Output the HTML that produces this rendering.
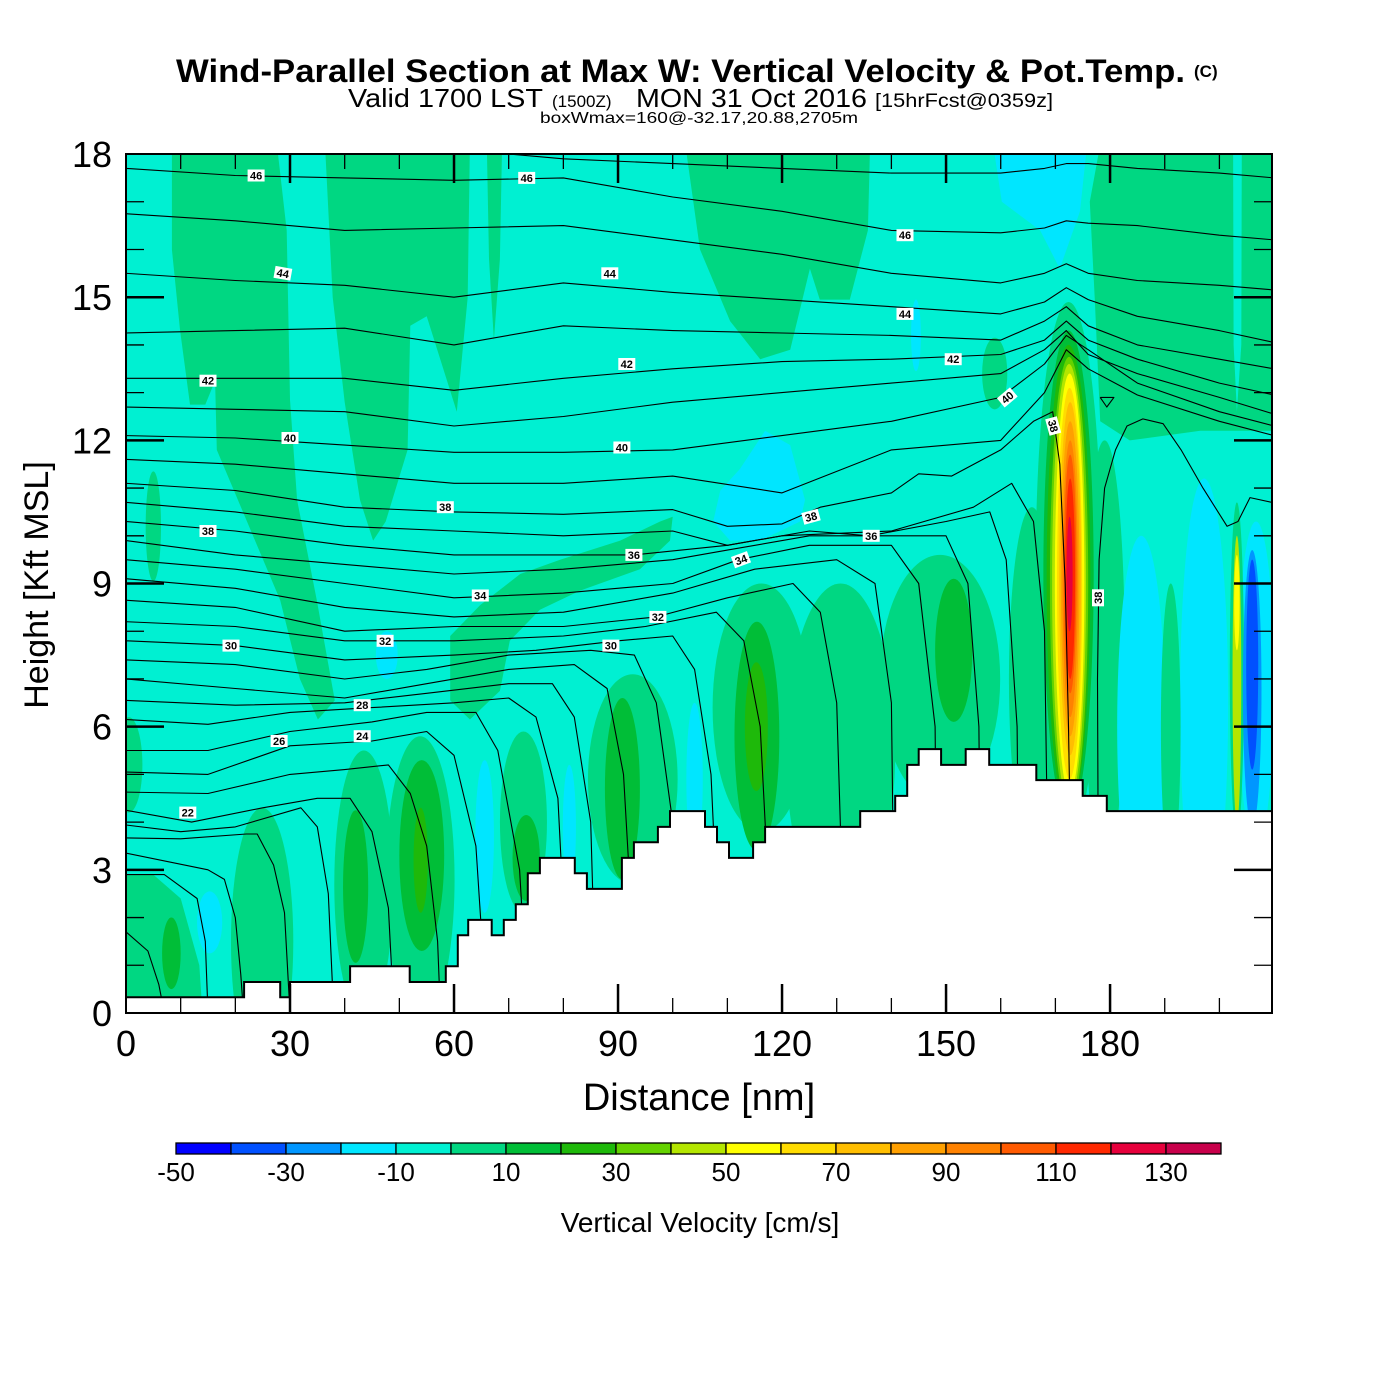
<!DOCTYPE html>
<html><head><meta charset="utf-8"><style>
html,body{margin:0;padding:0;background:#fff;}
svg{display:block;font-family:"Liberation Sans",sans-serif;}
</style></head><body>
<svg id="chart" width="1400" height="1400" viewBox="0 0 1400 1400" xmlns="http://www.w3.org/2000/svg">
<defs><clipPath id="plotclip"><rect x="126" y="154" width="1146" height="859"/></clipPath></defs>
<g>
<text x="176" y="82" font-size="32" font-weight="bold" textLength="1009" lengthAdjust="spacingAndGlyphs">Wind-Parallel Section at Max W: Vertical Velocity &amp; Pot.Temp.</text>
<text x="1194" y="77" font-size="17" font-weight="bold">(C)</text>
<text y="107"><tspan x="348" font-size="26" textLength="195" lengthAdjust="spacingAndGlyphs">Valid 1700 LST</tspan><tspan x="552" font-size="17">(1500Z)</tspan><tspan x="636" font-size="26" textLength="231" lengthAdjust="spacingAndGlyphs">MON 31 Oct 2016</tspan><tspan x="875" font-size="19" textLength="178" lengthAdjust="spacingAndGlyphs">[15hrFcst@0359z]</tspan></text>
<text x="540" y="123" font-size="16" textLength="318" lengthAdjust="spacingAndGlyphs">boxWmax=160@-32.17,20.88,2705m</text>
</g>
<g id="field" clip-path="url(#plotclip)"></g>
<g id="contours" clip-path="url(#plotclip)"></g>
<g id="terrain" clip-path="url(#plotclip)"></g>
<g id="clabels" clip-path="url(#plotclip)"></g>
<g id="axes"></g>
<g id="cbar"></g>
<text x="699" y="1110" font-size="38" text-anchor="middle">Distance [nm]</text>
<text transform="translate(48,585) rotate(-90)" font-size="34" text-anchor="middle">Height [Kft MSL]</text>
<text x="700" y="1232" font-size="28" text-anchor="middle">Vertical Velocity [cm/s]</text>
</svg>
<script>
// ---- data ----
const xTicks = [0,30,60,90,120,150,180];
const yTicks = [0,3,6,9,12,15,18];
const cbarBins = [-50,-40,-30,-20,-10,0,10,20,30,40,50,60,70,80,90,100,110,120,130];
const cbarColors = ['#0000FF','#0050FF','#0096FF','#00E6FF','#00F0D2','#00D782','#00BE37','#1EB90A','#64D200','#B4E600','#FFFF00','#FFDC00','#FFBE00','#FFA000','#FF8200','#FF5A00','#FF2800','#E6003C','#C8004B'];
const cbarLabels = [-50,-30,-10,10,30,50,70,90,110,130];
const terrainNm = [0,21.6,28.2,30,41,51.9,58.5,60.7,62.6,66.9,69.1,71.3,73.5,75.7,82.1,84.3,90.7,92.9,97.3,99.5,105.9,108.1,110.3,114.7,116.9,134.3,140.7,142.9,145,149.1,153.6,157.9,166.5,175,179.4,210];
const terrainKft = [0.33,0.65,0.33,0.65,0.98,0.65,0.98,1.63,1.95,1.63,1.95,2.28,2.93,3.25,2.93,2.6,3.25,3.58,3.9,4.23,3.9,3.58,3.25,3.58,3.9,4.23,4.55,5.2,5.53,5.2,5.53,5.2,4.88,4.55,4.23,4.23];
// field polygons: [value cm/s, [[nm,kft],...]]
const fieldPolys = [
 [5,[[8.4,18.2],[27.6,18.2],[29.4,16.4],[30,12.85],[31.3,10.75],[34.9,8.65],[38.2,6.55],[35.1,6.15],[31.8,7.0],[28.2,8.65],[16.6,11.8],[16.3,13.25],[14.5,12.75],[11.7,12.75],[9.9,14.3],[8.4,16.0]]],
 [5,[[36.4,18.2],[62.9,18.2],[62.5,15.0],[60.5,12.6],[55.0,14.6],[52.0,14.4],[51.5,11.8],[47.5,10.3],[45.2,9.9],[42.8,10.75],[40.0,12.8],[37.8,15.0]]],
 [5,[[66,18.2],[68.8,18.2],[68.4,15.8],[67.3,14.1],[66.4,15.8]]],
 [5,[[102.3,18.2],[136.1,18.2],[135.7,16.4],[132.4,14.95],[126.9,14.95],[125.1,15.6],[121.5,13.9],[116,13.7],[110.5,14.5],[105,16.0]]],
 [5,[[178.2,18.2],[210,18.2],[210,12.2],[196.5,12.2],[183.6,12.0],[178.2,12.4],[177.2,14.95],[176.3,17.0]]],
 [-5,[[202.5,18.2],[204.1,18.2],[204.0,14.0],[203.2,12.6],[202.6,14.0]]],
 [-15,[[158.6,18.2],[175.8,18.2],[174.5,16.8],[170.8,15.6],[167.2,16.4],[160.2,17.0]]],
 [5,[[59.3,7.9],[64.8,8.55],[72.1,9.2],[79.4,9.5],[90.4,9.9],[97.7,10.3],[100,10.4],[99.5,9.9],[94,9.3],[83,8.85],[75.7,8.45],[70.2,7.8],[68.4,6.75],[62.9,6.15],[59.3,6.55]]],
 [5,[[0,0],[0,2.9],[5,2.9],[10,2.4],[13.4,1.0],[14,0]]],
 [-15,[[107.4,10.3],[108.7,10.95],[112.3,11.4],[116.9,12.2],[121.5,11.9],[124.2,10.75],[123.3,10.3],[116,9.9],[110.5,9.9]]]
];
// field blobs: [value cm/s, nm, kft, rx nm, ry kft]
const fieldBlobs = [
 [5,0.5,5.2,2.5,1.0],[5,5.0,10.2,1.4,1.15],[15,8.3,1.25,1.7,0.75],[-15,15.3,1.9,2.3,0.65],
 [5,24.9,1.5,5.7,2.8],[5,43.5,2.7,5.4,2.8],[15,42,2.65,2.3,1.6],
 [5,53.8,2.8,6.3,3.0],[15,54.1,3.3,4.1,2.0],[25,53.9,3.2,1.3,1.1],
 [-15,65.6,3.7,1.7,1.6],[5,72.7,4.0,4.3,1.9],[15,73.2,3.25,2.5,0.9],[-15,81.1,3.9,1.2,1.3],
 [5,92.7,4.9,8.2,2.2],[15,90.8,4.7,3.2,1.9],[-15,104,4.9,1.5,1.6],
 [5,116.2,6.4,8.9,2.6],[15,115.4,5.8,4.1,2.4],[25,115.3,6.0,2.1,1.35],
 [5,130.7,5.5,10,3.5],[5,148.9,7.0,11,2.6],[15,151.4,7.6,3.4,1.5],[5,165.7,7.0,4.2,3.6],
 [-15,47.7,7.5,2.0,0.5],[-15,144.5,14.2,0.9,0.75],[5,158.9,13.4,2.3,0.75],
 [5,179,7.5,3.7,4.5],[-15,185.7,6.0,4.4,4.0],[-15,197.2,6.5,4.4,4.7],[5,191.1,6.0,1.8,3.0],
 [-15,206.7,6.9,3.3,3.4],[5,203.2,7.2,1.3,3.5],[45,203.2,7.0,0.8,3.0],[55,203.2,8.6,0.5,1.0],
 [-25,206,6.8,1.7,2.9],[-35,206,7.3,1.1,2.2],
 [5,172.4,9.3,6.0,5.6],[15,172.4,9.2,4.6,5.1],[25,172.4,9.1,4.0,4.9],[35,172.5,9.0,3.5,4.75],
 [45,172.5,9.0,3.1,4.6],[55,172.6,9.0,2.7,4.4],[65,172.6,9.0,2.3,4.1],[75,172.7,9.1,2.0,3.7],
 [85,172.7,9.1,1.7,3.3],[95,172.7,9.1,1.4,2.9],[105,172.7,9.2,1.15,2.5],[115,172.7,9.1,0.9,2.1],[125,172.6,9.2,0.55,1.2]
];
// potential temperature isentropes
const upperNodesNm = [0,20,40,60,80,100,120,140,160,168,172,176,185,200,210];
const upperLevels = [47,46,45,44,43,42,41,40,39];
const upperKft = [
 [18.3,18.3,18.2,18.1,17.9,17.8,17.7,17.6,17.6,17.7,17.8,17.8,17.7,17.6,17.5],
 [17.7,17.55,17.5,17.45,17.5,17.1,16.8,16.4,16.35,16.45,16.6,16.55,16.5,16.3,16.2],
 [16.75,16.6,16.4,16.45,16.5,16.2,15.9,15.5,15.3,15.5,15.7,15.5,15.35,15.25,15.15],
 [15.5,15.35,15.25,15.0,15.3,15.1,14.95,14.8,14.65,14.9,15.2,14.95,14.6,14.3,14.05],
 [14.25,14.3,14.35,14.0,14.4,14.3,14.25,14.2,14.1,14.5,14.8,14.4,14.0,13.7,13.5],
 [13.3,13.3,13.3,13.05,13.3,13.5,13.65,13.7,13.8,14.1,14.5,14.1,13.7,13.2,12.95],
 [12.7,12.65,12.6,12.3,12.5,12.8,13.0,13.2,13.4,13.9,14.3,13.8,13.4,12.9,12.55],
 [12.1,12.05,11.9,11.75,11.75,11.8,12.1,12.4,12.9,13.6,14.2,13.9,13.2,12.6,12.3],
 [11.6,11.5,11.3,11.1,11.1,11.25,10.9,11.8,12.0,13.0,13.9,13.5,12.95,12.4,12.1]
];
const lowerLines = [
 [[0,11.1],[20,10.95],[40,10.6],[60,10.5],[80,10.45],[100,10.55],[110,10.2],[120,10.25],[127,10.6],[140,10.9],[145,11.3],[151,11.25],[160,11.8],[166,12.4],[169.5,12.6],[170.8,11.5],[171.8,9],[172.4,6],[172.6,4.6]],
 [[177.8,4.4],[177.7,7],[178,9.5],[179,11.0],[181,11.8],[183.1,12.3],[186,12.45],[189.7,12.35],[193,11.8],[197,11.0],[201.4,10.2],[203.4,10.3],[205.6,10.8],[209.6,10.7]],
 [[0,10.7],[20,10.5],[40,10.2],[60,10.1],[80,10.0],[100,10.1],[110,9.8],[120,10.0],[140,10.1],[155,10.6],[162,11.1],[166,10.3],[168,8],[169,0]],
 [[0,10.3],[20,10.1],[40,9.8],[60,9.6],[80,9.6],[93,9.6],[110,9.8],[125,10.1],[136,10.0],[150,10.3],[158,10.5],[161,9.5],[163,6],[163.5,0]],
 [[0,9.9],[20,9.6],[40,9.4],[60,9.2],[80,9.3],[100,9.5],[110,9.7],[125,10.0],[140,10.0],[150,10.0],[154,9.0],[156,6],[156.5,0]],
 [[0,9.5],[20,9.3],[40,9.0],[60,8.7],[80,8.8],[100,9.0],[112,9.5],[125,9.8],[140,9.8],[145,9.0],[148,6],[148.5,0]],
 [[0,9.1],[20,8.9],[40,8.5],[60,8.3],[80,8.4],[100,8.8],[115,9.3],[130,9.5],[137,9.0],[140,6.5],[140.7,0]],
 [[0,8.65],[20,8.5],[40,8.0],[60,8.1],[80,8.1],[97,8.3],[110,8.7],[122,9.0],[127,8.4],[130,6.5],[131.7,0]],
 [[0,8.2],[20,8.1],[40,7.8],[60,7.8],[80,7.9],[95,8.1],[108,8.4],[113,7.8],[116,6],[118.7,0]],
 [[0,7.8],[20,7.7],[40,7.4],[60,7.5],[75,7.6],[90,7.8],[100,7.9],[104,7.2],[107,5],[109,0]],
 [[0,7.4],[20,7.3],[40,7.0],[55,7.2],[70,7.5],[85,7.6],[93,7.5],[97,6.5],[100,4],[101.7,0]],
 [[0,7.0],[20,6.8],[40,6.6],[55,6.9],[70,7.2],[82,7.3],[88,6.8],[91,5],[93.5,0]],
 [[0,6.55],[20,6.45],[40,6.5],[55,6.7],[70,6.9],[78,6.9],[82,6.2],[85,4],[86,0]],
 [[0,6.15],[15,6.05],[30,6.3],[45,6.4],[60,6.5],[70,6.6],[75,6.2],[79,4.5],[81,0]],
 [[0,5.5],[15,5.5],[30,5.9],[45,6.1],[55,6.3],[64,6.3],[68,5.5],[72,3],[73.5,0]],
 [[0,5.05],[15,5.0],[30,5.6],[45,5.7],[55,5.9],[60,5.4],[64,3.5],[66,0]],
 [[0,4.63],[15,4.6],[30,5.0],[40,5.1],[48,5.2],[52,4.6],[55,3.5],[57,1.5],[57.5,0]],
 [[0,4.25],[12,4.0],[25,4.3],[35,4.5],[41,4.5],[45,3.8],[48,2.2],[49,0]],
 [[0,3.94],[10,3.8],[20,3.9],[32,4.3],[35,3.9],[37,2.5],[38,0]],
 [[0,3.67],[10,3.65],[22,3.75],[24,3.75],[27,3.1],[29,2.1],[30,0]],
 [[0,3.35],[15,3.0],[18,2.8],[20,2.0],[21,0.8],[21.5,0]],
 [[0,2.9],[7,2.9],[13,2.4],[14.5,1.5],[15,0]],
 [[0,1.7],[4,1.3],[6,0.6],[7,0]],
 [[178.2,12.9],[180.7,12.9],[179.4,12.7],[178.2,12.9]]
];
// contour labels: [text, nm, kft, angle]
const labelText = ['46','46','46','44','44','44','42','42','42','40','40','40','38','38','38','38','38','36','36','34','34','32','32','30','30','28','26','24','22'];
const labelNm = [23.8,73.3,142.5,28.7,88.5,142.5,15,91.6,151.3,30,90.7,161.2,58.4,15,125.3,169.6,177.8,92.9,136.3,64.8,112.5,47.4,97.3,19.2,88.7,43.2,28,43.2,11.3];
const labelKft = [17.55,17.5,16.3,15.5,15.5,14.65,13.25,13.6,13.7,12.05,11.85,12.9,10.6,10.1,10.4,12.3,8.7,9.6,10.0,8.75,9.5,7.8,8.3,7.7,7.7,6.45,5.7,5.8,4.2];
const labelAngle = [0,0,0,10,0,0,0,0,0,0,0,-40,0,0,-15,75,-90,0,0,0,-20,0,0,0,0,0,0,0,0];

// ---- axis functions ----
const X0=126, X1=1272, Y0=1013, Y1=154;
const xScale = nm => X0 + nm*5.467;
const yScale = k => Y0 - k*47.72;
const NS='http://www.w3.org/2000/svg';
function mk(tag, attrs, parent){const e=document.createElementNS(NS,tag);for(const k in attrs)e.setAttribute(k,attrs[k]);parent.appendChild(e);return e;}
function colorFor(v){let i=0;for(let j=0;j<cbarBins.length;j++){if(v>=cbarBins[j])i=j;}return cbarColors[i];}
const pts = arr => arr.map(p=>xScale(p[0]).toFixed(1)+','+yScale(p[1]).toFixed(1)).join(' ');

// field
const field=document.getElementById('field');
const bg=mk('rect',{x:X0,y:Y1,width:X1-X0,height:Y0-Y1,fill:colorFor(-5)},field);


fieldPolys.forEach(p=>{
  const e=mk('polygon',{points:pts(p[1]),fill:colorFor(p[0])},field);
  
  
});
fieldBlobs.forEach(b=>{
  const e=mk('ellipse',{cx:xScale(b[1]),cy:yScale(b[2]),rx:b[3]*5.467,ry:b[4]*47.72,fill:colorFor(b[0])},field);
  
  
});

// contours
const cg=document.getElementById('contours');
upperKft.forEach((row,i)=>{
  const e=mk('polyline',{points:pts(row.map((k,j)=>[upperNodesNm[j],k])),fill:'none',stroke:'#000','stroke-width':1.1,'stroke-linejoin':'round'},cg);
  
  
});
lowerLines.forEach(l=>{
  const e=mk('polyline',{points:pts(l),fill:'none',stroke:'#000','stroke-width':1.1,'stroke-linejoin':'round'},cg);
  
  
});

// terrain
const tg=document.getElementById('terrain');
let tp=[[0,0]];
for(let i=0;i<terrainNm.length-1;i++){tp.push([terrainNm[i],terrainKft[i]]);tp.push([terrainNm[i+1],terrainKft[i]]);}
const tfill=mk('polygon',{points:pts(tp.concat([[210,0]])),fill:'#fff'},tg);


const tline=mk('polyline',{points:pts(tp.slice(1)),fill:'none',stroke:'#000','stroke-width':2},tg);



// contour labels
const lg=document.getElementById('clabels');
labelText.forEach((t,i)=>{
  const g=mk('g',{transform:'translate('+xScale(labelNm[i]).toFixed(1)+','+yScale(labelKft[i]).toFixed(1)+') rotate('+labelAngle[i]+')'},lg);
  
  
  mk('rect',{x:-8.5,y:-6,width:17,height:12,fill:'#fff'},g);
  const tx=mk('text',{x:0,y:4,'font-size':11,'font-weight':'bold','text-anchor':'middle'},g);
  tx.textContent=t;
});

// axes
const ax=document.getElementById('axes');
const frame=mk('rect',{x:X0,y:Y1,width:X1-X0,height:Y0-Y1,fill:'none',stroke:'#000','stroke-width':2},ax);


for(let nm=10;nm<210;nm+=10){
  const major=nm%30===0, L=major?29:15, w=major?2.5:1.3, x=xScale(nm);
  mk('line',{x1:x,y1:Y0,x2:x,y2:Y0-L,stroke:'#000','stroke-width':w},ax);
  mk('line',{x1:x,y1:Y1,x2:x,y2:Y1+L,stroke:'#000','stroke-width':w},ax);
}
for(let k=1;k<18;k++){
  const major=k%3===0, L=major?38:18, w=major?2.5:1.3, y=yScale(k);
  mk('line',{x1:X0,y1:y,x2:X0+L,y2:y,stroke:'#000','stroke-width':w},ax);
  mk('line',{x1:X1,y1:y,x2:X1-L,y2:y,stroke:'#000','stroke-width':w},ax);
}
xTicks.forEach(v=>{
  const t=mk('text',{x:xScale(v),y:1056,'font-size':36,'text-anchor':'middle'},ax);
  
  
  t.textContent=v;
});
yTicks.forEach(v=>{
  const t=mk('text',{x:112,y:yScale(v)+13,'font-size':36,'text-anchor':'end'},ax);
  
  
  t.textContent=v;
});

// colorbar
const cb=document.getElementById('cbar');
cbarColors.forEach((c,i)=>{
  const r=mk('rect',{x:176+i*55,y:1143,width:55,height:11,fill:c,stroke:'#000','stroke-width':1.3},cb);
  
  
});
cbarLabels.forEach(v=>{
  const t=mk('text',{x:176+(v+50)*5.5,y:1181,'font-size':26,'text-anchor':'middle'},cb);
  
  
  t.textContent=v;
});
</script>
</body></html>
